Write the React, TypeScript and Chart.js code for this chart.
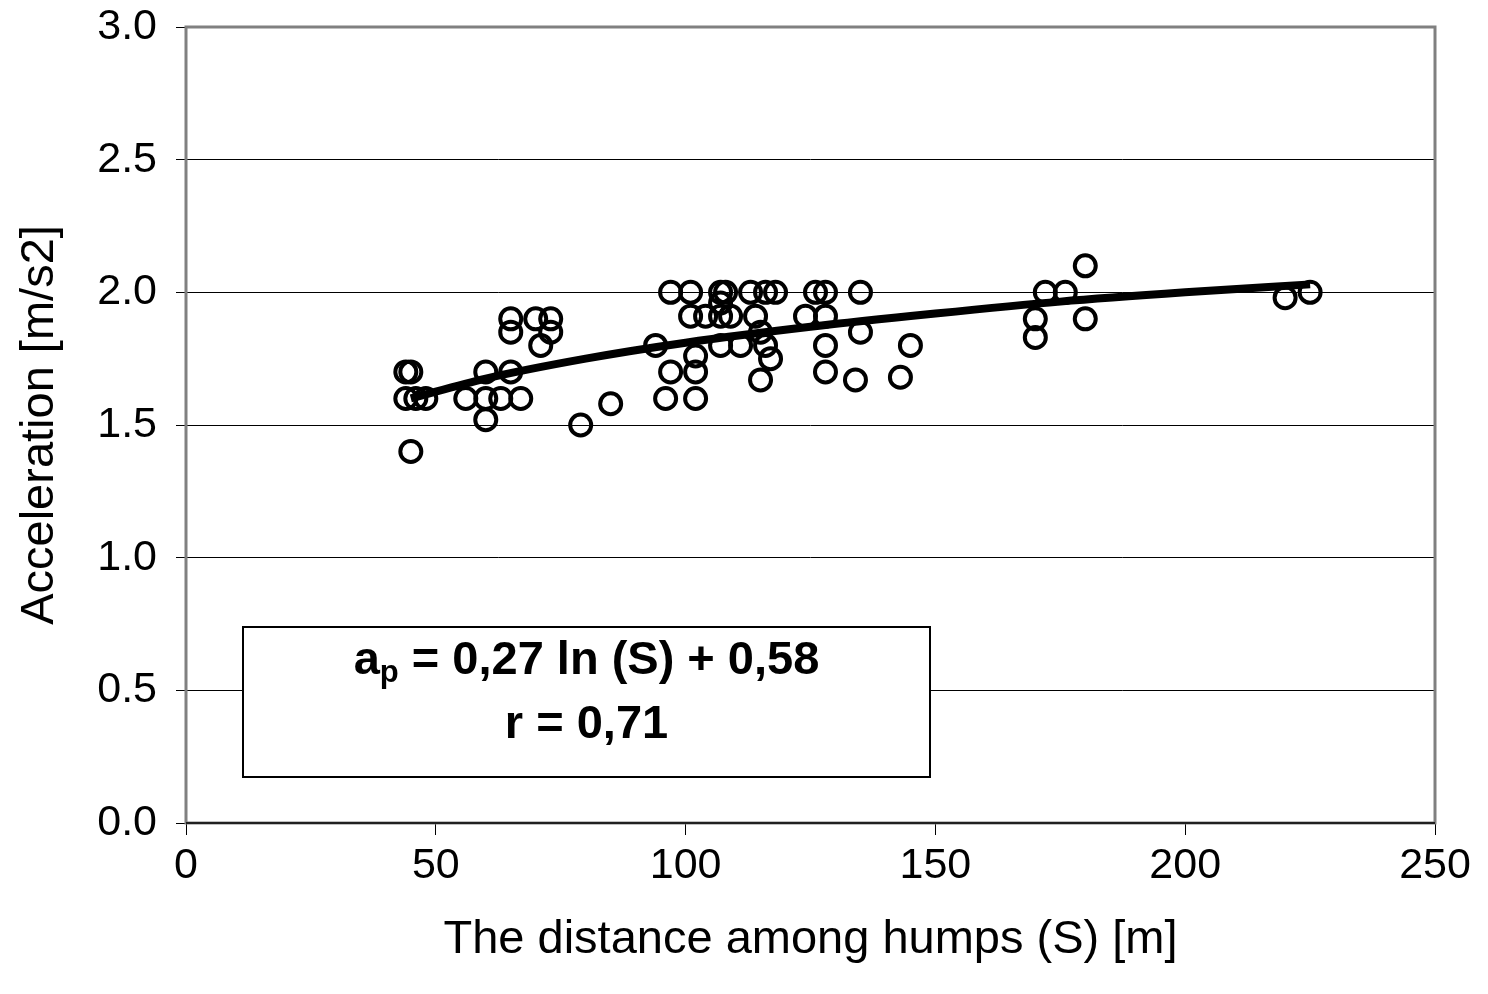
import { useEffect, useRef } from "react";
import { Chart, registerables } from "chart.js";

Chart.register(...registerables);

// Measured points: distance among humps S [m] and acceleration [m/s2]
const distanceS = [
  44, 45, 44, 46, 48, 45,
  56, 60, 63, 67, 60, 65, 60,
  65, 65, 70, 73, 73, 71,
  79, 85,
  94, 97, 96,
  97, 101, 107, 108, 113, 116, 118, 126, 128, 135,
  101, 104, 107, 109, 114, 124, 128,
  107,
  115, 135,
  107, 111, 116, 128, 145,
  102, 117,
  102, 128,
  115, 134, 143,
  102,
  180, 172, 176, 170, 170, 180, 220, 225,
];
const acceleration = [
  1.7, 1.7, 1.6, 1.6, 1.6, 1.4,
  1.6, 1.6, 1.6, 1.6, 1.7, 1.7, 1.52,
  1.9, 1.85, 1.9, 1.9, 1.85, 1.8,
  1.5, 1.58,
  1.8, 1.7, 1.6,
  2.0, 2.0, 2.0, 2.0, 2.0, 2.0, 2.0, 2.0, 2.0, 2.0,
  1.91, 1.91, 1.91, 1.91, 1.91, 1.91, 1.91,
  1.96,
  1.85, 1.85,
  1.8, 1.8, 1.8, 1.8, 1.8,
  1.76, 1.75,
  1.7, 1.7,
  1.67, 1.67, 1.68,
  1.6,
  2.1, 2.0, 2.0, 1.9, 1.83, 1.9, 1.98, 2.0,
];

// Trend curve
const trendS = [45, 60, 80, 100, 125, 150, 175, 200, 225];
const trendA = [1.6, 1.675, 1.75, 1.81, 1.87, 1.92, 1.965, 2.0, 2.03];

const xTickValues = [0, 50, 100, 150, 200, 250];
const yTickValues = [0, 0.5, 1.0, 1.5, 2.0, 2.5, 3.0];

const xTitle = "The distance among humps (S) [m]";
const yTitle = "Acceleration [m/s2]";
const eqMain = "a";
const eqSub = "p";
const eqRest = " = 0,27 ln (S) + 0,58";
const eqR = "r = 0,71";

const FONT = "'Liberation Sans', Arial, sans-serif";

const framePlugin = {
  id: "framePlugin",
  beforeDatasetsDraw(chart: any) {
    const { ctx, chartArea } = chart;
    ctx.save();
    ctx.strokeStyle = "#808080";
    ctx.lineWidth = 3;
    ctx.strokeRect(
      chartArea.left,
      chartArea.top,
      chartArea.right - chartArea.left,
      chartArea.bottom - chartArea.top
    );
    ctx.strokeStyle = "#000";
    ctx.lineWidth = 1.5;
    ctx.beginPath();
    ctx.moveTo(chartArea.left, chartArea.bottom);
    ctx.lineTo(chartArea.right, chartArea.bottom);
    ctx.stroke();
    ctx.restore();
  },
  afterDraw(chart: any) {
    const { ctx, chartArea } = chart;
    const bx = chartArea.left + 57;
    const by = chartArea.top + 600;
    const bw = 687;
    const bh = 150;
    ctx.save();
    ctx.fillStyle = "#fff";
    ctx.fillRect(bx, by, bw, bh);
    ctx.strokeStyle = "#000";
    ctx.lineWidth = 2;
    ctx.strokeRect(bx, by, bw, bh);
    ctx.fillStyle = "#000";
    ctx.textBaseline = "alphabetic";
    const bigFont = `bold 47px ${FONT}`;
    const subFont = `bold 31px ${FONT}`;
    ctx.font = bigFont;
    const wA = ctx.measureText(eqMain).width;
    const wRest = ctx.measureText(eqRest).width;
    ctx.font = subFont;
    const wSub = ctx.measureText(eqSub).width;
    const total = wA + wSub + wRest;
    const cx = bx + bw / 2;
    let x = cx - total / 2;
    const y1 = by + 47;
    ctx.font = bigFont;
    ctx.textAlign = "left";
    ctx.fillText(eqMain, x, y1);
    x += wA;
    ctx.font = subFont;
    ctx.fillText(eqSub, x, y1 + 8);
    x += wSub;
    ctx.font = bigFont;
    ctx.fillText(eqRest, x, y1);
    ctx.textAlign = "center";
    ctx.fillText(eqR, cx, by + 111);
    ctx.restore();
  },
};

export default function App() {
  const ref = useRef<HTMLCanvasElement | null>(null);
  useEffect(() => {
    document.body.style.margin = "0";
    const canvas = ref.current;
    if (!canvas) return;
    const chart = new Chart(canvas, {
      type: "scatter",
      data: {
        datasets: [
          {
            type: "line",
            data: trendS.map((s, i) => ({ x: s, y: trendA[i] })),
            borderColor: "#000",
            borderWidth: 8,
            pointRadius: 0,
            cubicInterpolationMode: "monotone",
            fill: false,
            order: 0,
          } as any,
          {
            data: distanceS.map((s, i) => ({ x: s, y: acceleration[i] })),
            pointStyle: "circle",
            pointRadius: 10.5,
            borderWidth: 4,
            borderColor: "#000",
            backgroundColor: "rgba(0,0,0,0)",
            order: 1,
          },
        ],
      },
      options: {
        responsive: false,
        animation: false,
        layout: { padding: { top: 27, right: 53, left: 0, bottom: 0 } },
        plugins: {
          legend: { display: false },
          tooltip: { enabled: false },
        },
        scales: {
          x: {
            type: "linear",
            min: 0,
            max: 250,
            afterBuildTicks: (axis: any) => {
              axis.ticks = xTickValues.map((v) => ({ value: v }));
            },
            afterFit: (axis: any) => {
              axis.height = 171;
              axis.paddingLeft = 0;
              axis.paddingRight = 0;
            },
            ticks: {
              color: "#000",
              font: { family: FONT, size: 43 },
              padding: 5,
              maxRotation: 0,
            },
            grid: {
              drawOnChartArea: false,
              drawTicks: true,
              tickLength: 12,
              color: "#000",
            },
            border: { display: false },
            title: {
              display: true,
              text: xTitle,
              color: "#000",
              font: { family: FONT, size: 47 },
              padding: { top: 0, bottom: 26 },
            },
          },
          y: {
            type: "linear",
            min: 0,
            max: 3,
            afterBuildTicks: (axis: any) => {
              axis.ticks = yTickValues.map((v) => ({ value: v }));
            },
            afterFit: (axis: any) => {
              axis.width = 186;
              axis.paddingTop = 0;
              axis.paddingBottom = 0;
            },
            ticks: {
              color: "#000",
              font: { family: FONT, size: 43 },
              padding: 19,
              callback: (v: any) => Number(v).toFixed(1),
            },
            grid: {
              color: "#000",
              lineWidth: 1,
              drawTicks: true,
              tickLength: 10,
            },
            border: { display: false },
            title: {
              display: true,
              text: yTitle,
              color: "#000",
              font: { family: FONT, size: 47 },
              padding: { top: 12, bottom: 0 },
            },
          },
        },
      },
      plugins: [framePlugin],
    });
    return () => chart.destroy();
  }, []);
  return (
    <div style={{ width: 1488, height: 994, background: "#fff" }}>
      <canvas ref={ref} width={1488} height={994} style={{ display: "block" }} />
    </div>
  );
}
